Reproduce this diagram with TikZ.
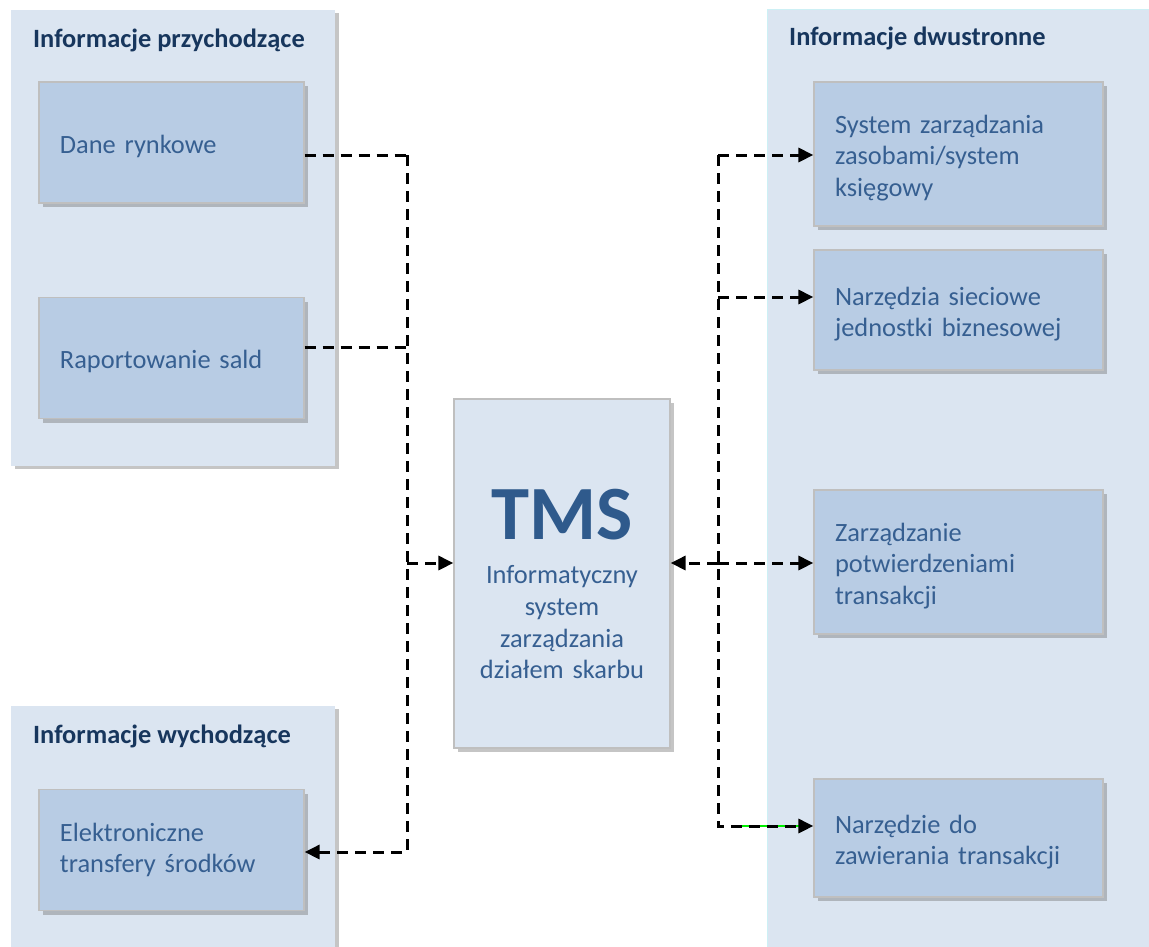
\documentclass[tikz,border=0pt]{standalone}
\usepackage{fontspec}
\setmainfont{Carlito}
\usepackage{tikz}
\usetikzlibrary{arrows.meta,shadows}
\definecolor{groupfill}{RGB}{219,229,241}
\definecolor{boxfill}{RGB}{184,204,228}
\definecolor{boxline}{RGB}{191,191,191}
\definecolor{textblue}{RGB}{54,95,145}
\definecolor{headblue}{RGB}{23,54,93}
\definecolor{tmsblue}{RGB}{47,90,140}
\definecolor{shadowgray}{RGB}{110,110,110}
\definecolor{edgecyan}{RGB}{205,240,245}
\definecolor{glitch}{RGB}{0,240,0}

\begin{document}
\begin{tikzpicture}[x=1bp, y=-1bp,
    group/.style={fill=groupfill, draw=none, inner sep=0pt,
      drop shadow={shadow xshift=4bp, shadow yshift=-3bp, fill=shadowgray, opacity=0.4}},
    head/.style={anchor=west, inner sep=0pt, text=headblue,
      font=\fontsize{26.5}{31}\selectfont\bfseries},
    item/.style={fill=boxfill, draw=boxline, line width=1.2bp, inner xsep=21bp,
      text=textblue, align=left, font=\fontsize{26.5}{31.5}\selectfont,
      drop shadow={shadow xshift=4bp, shadow yshift=-4bp, fill=shadowgray, opacity=0.4}},
    link/.style={draw=black, line width=3bp, dash pattern=on 11bp off 7bp},
    tip/.style={-{Triangle[length=15bp,width=14bp]}}]
  \useasboundingbox (0,0) rectangle (1149,947);
  % Groups
  \node[group, minimum width=324bp, minimum height=456bp] (inGroup) at (173,238) {};
  \node[group, minimum width=324bp, minimum height=260bp] (outGroup) at (173,836) {};
  \node[group, draw=edgecyan, line width=1bp, minimum width=400bp, minimum height=960bp] (twoGroup) at (967,490) {};
  \node[head] (inHead) at (33,40) {Informacje przychodzące};
  \node[head] (outHead) at (33,736) {Informacje wychodzące};
  \node[head] (twoHead) at (789,38) {Informacje dwustronne};
  % Left boxes
  \node[item, text width=223bp, minimum height=121bp] (dane) at (171.5,142.5) {\rule{0pt}{26bp}Dane rynkowe};
  \node[item, text width=223bp, minimum height=121bp] (salda) at (171.5,358) {\rule{0pt}{26bp}Raportowanie sald};
  \node[item, text width=223bp, minimum height=121bp] (eft) at (171.5,850) {Elektroniczne\\transfery środków};
  % TMS
  \node[item, fill=groupfill, inner xsep=0pt, text width=216bp, minimum height=349bp, align=center]
    (tms) at (562,573.5) {{\fontsize{77}{70}\selectfont\bfseries\textcolor{tmsblue}{\rule{0pt}{72bp}TMS}}\\[12bp]
      Informatyczny\\[0.5bp]system\\[0.5bp]zarządzania\\[0.5bp]działem skarbu};
  % Right boxes
  \node[item, text width=247bp, minimum height=144bp] (zasoby) at (958.5,154) {\rule{0pt}{26bp}System zarządzania\\zasobami/system\\księgowy};
  \node[item, text width=247bp, minimum height=120bp] (siec) at (958.5,310) {\rule{0pt}{26bp}Narzędzia sieciowe\\jednostki biznesowej};
  \node[item, text width=247bp, minimum height=144bp] (potw) at (958.5,562) {\rule{0pt}{26bp}Zarządzanie\\potwierdzeniami\\transakcji};
  \node[item, text width=247bp, minimum height=118bp] (zawier) at (958.5,838) {\rule{0pt}{26bp}Narzędzie do\\zawierania transakcji};
  % Bus points
  \coordinate (lb1) at (407,155);
  \coordinate (lb2) at (407,347);
  \coordinate (lb3) at (407,563);
  \coordinate (lb4) at (407,852);
  \coordinate (rb1) at (718,155);
  \coordinate (rb2) at (718,297);
  \coordinate (rb3) at (718,563);
  \coordinate (rb4) at (718,826);
  % Connectors left
  \draw[glitch, line width=1.6bp] (735,826) -- (800,826);
  \draw[link] (lb1 -| dane.east) -- (lb1);
  \draw[link] (lb2 -| salda.east) -- (lb2);
  \draw[link, tip] (lb1) -- (lb4) -- (lb4 -| eft.east);
  \draw[link, tip] (lb3) -- (lb3 -| tms.west);
  % Connectors right
  \draw[link, tip] (rb1) -- (rb1 -| zasoby.west);
  \draw[link, tip] (rb2) -- (rb2 -| siec.west);
  \draw[link, tip] (rb1) -- (rb4) -- (rb4 -| zawier.west);
  \draw[link, tip] (rb3) -- (rb3 -| tms.east);
  \draw[link, tip] (rb3) -- (rb3 -| potw.west);
\end{tikzpicture}
\end{document}
